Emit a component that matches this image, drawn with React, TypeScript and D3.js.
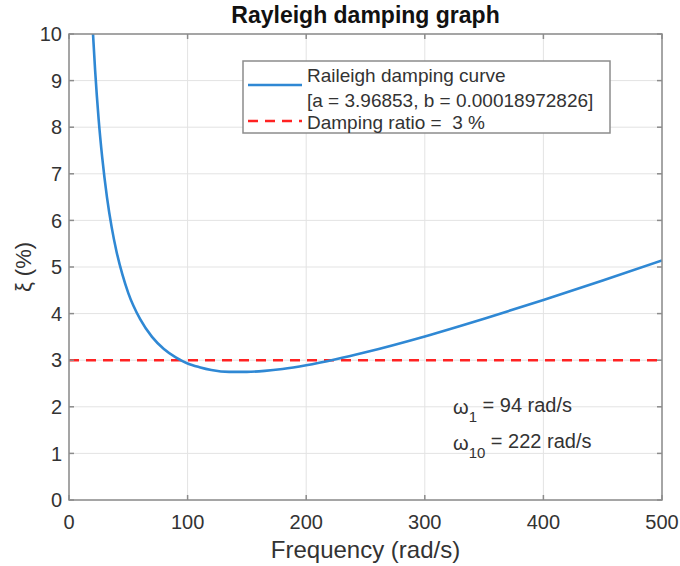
import { scaleLinear, line, curveMonotoneX } from "d3";

const freq = [19, 20, 22, 25, 28, 32, 36, 40, 45, 50, 60, 70, 80, 90, 100, 110, 120, 135, 150, 165, 180, 200, 225, 250, 300, 350, 400, 450, 500];
const ratio = [10.62, 10.11, 9.23, 8.17, 7.35, 6.5, 5.85, 5.34, 4.84, 4.44, 3.88, 3.5, 3.24, 3.06, 2.93, 2.85, 2.79, 2.75, 2.75, 2.77, 2.81, 2.89, 3.02, 3.17, 3.51, 3.89, 4.29, 4.71, 5.14];
const targetRatio = 3;
const xTicks = [0, 100, 200, 300, 400, 500];
const yTicks = [0, 1, 2, 3, 4, 5, 6, 7, 8, 9, 10];
const legendLabels = ["Raileigh damping curve", "[a = 3.96853, b = 0.00018972826]", "Damping ratio =  3 %"];

const width = 680;
const height = 566;
const margin = { top: 34, right: 18, bottom: 66, left: 69 };
const font = "Liberation Sans, Arial, Helvetica, sans-serif";

const blue = "#2f88d4";
const red = "#ff2222";
const axisGray = "#8c8c8c";
const textGray = "#333";

const App = () => {
  const innerWidth = width - margin.left - margin.right;
  const innerHeight = height - margin.top - margin.bottom;

  const xScale = scaleLinear().domain([0, 500]).range([0, innerWidth]);
  const yScale = scaleLinear().domain([0, 10]).range([innerHeight, 0]);

  const pts = freq.map((f, i) => [f, ratio[i]] as [number, number]);
  const curvePath = line<[number, number]>()
    .x((d) => xScale(d[0]))
    .y((d) => yScale(d[1]))
    .curve(curveMonotoneX)(pts);

  const tickLen = 5;

  return (
    <svg width={width} height={height} style={{ position: "absolute", left: 0, top: 0 }} fontFamily={font}>
      <rect width={width} height={height} fill="white" />
      <text x={margin.left + innerWidth / 2} y={23} textAnchor="middle" fontWeight="bold" fontSize={23} fill="#111">
        Rayleigh damping graph
      </text>
      <g transform={`translate(${margin.left},${margin.top})`}>
        <defs>
          <clipPath id="plot-clip">
            <rect width={innerWidth} height={innerHeight} />
          </clipPath>
        </defs>
        {/* grid */}
        {xTicks.map((t) => (
          <line key={"gx" + t} x1={xScale(t)} x2={xScale(t)} y1={0} y2={innerHeight} stroke="#e3e3e3" />
        ))}
        {yTicks.map((t) => (
          <line key={"gy" + t} x1={0} x2={innerWidth} y1={yScale(t)} y2={yScale(t)} stroke="#e3e3e3" />
        ))}

        {/* data */}
        <g clipPath="url(#plot-clip)">
          <line
            x1={0}
            x2={innerWidth}
            y1={yScale(targetRatio)}
            y2={yScale(targetRatio)}
            stroke={red}
            strokeWidth={2.5}
            strokeDasharray="10,7"
          />
          <path d={curvePath || ""} fill="none" stroke={blue} strokeWidth={2.6} />
        </g>

        {/* box + ticks */}
        <rect width={innerWidth} height={innerHeight} fill="none" stroke={axisGray} strokeWidth={1.5} />
        {xTicks.map((t) => (
          <g key={"tx" + t} transform={`translate(${xScale(t)},0)`}>
            <line y1={innerHeight} y2={innerHeight - tickLen} stroke={axisGray} strokeWidth={1.5} />
            <line y1={0} y2={tickLen} stroke={axisGray} strokeWidth={1.5} />
            <text y={innerHeight + 29} textAnchor="middle" fontSize={20} fill={textGray}>
              {t}
            </text>
          </g>
        ))}
        {yTicks.map((t) => (
          <g key={"ty" + t} transform={`translate(0,${yScale(t)})`}>
            <line x1={0} x2={tickLen} stroke={axisGray} strokeWidth={1.5} />
            <line x1={innerWidth} x2={innerWidth - tickLen} stroke={axisGray} strokeWidth={1.5} />
            <text x={-7} dy="0.36em" textAnchor="end" fontSize={20} fill={textGray}>
              {t}
            </text>
          </g>
        ))}

        {/* axis labels */}
        <text x={innerWidth / 2} y={innerHeight + 58} textAnchor="middle" fontSize={24} fill={textGray}>
          Frequency (rad/s)
        </text>
        <text
          transform={`translate(${-38},${innerHeight / 2}) rotate(-90)`}
          textAnchor="middle"
          fontSize={22}
          fill={textGray}
        >
          ξ (%)
        </text>

        {/* legend */}
        <g transform={`translate(${243 - margin.left},${61 - margin.top})`}>
          <rect width={367} height={72} fill="white" stroke={axisGray} strokeWidth={1.5} />
          <line x1={5} x2={59} y1={24} y2={24} stroke={blue} strokeWidth={2.6} />
          <line x1={5} x2={59} y1={60} y2={60} stroke={red} strokeWidth={2.5} strokeDasharray="10,7" />
          <text x={64} y={14} dy="0.35em" fontSize={19} fill={textGray}>
            {legendLabels[0]}
          </text>
          <text x={64} y={39} dy="0.35em" fontSize={19} fill={textGray}>
            {legendLabels[1]}
          </text>
          <text x={64} y={61} dy="0.35em" fontSize={19} fill={textGray} style={{ whiteSpace: "pre" }}>
            {legendLabels[2]}
          </text>
        </g>

        {/* annotation */}
        <g transform={`translate(${453 - margin.left},${407 - margin.top})`} fontSize={20} fill={textGray}>
          <text dy="0.35em">
            ω<tspan fontSize={15} dy="0.5em">1</tspan>
            <tspan dy="-0.5em"> = 94 rad/s</tspan>
          </text>
          <text y={36} dy="0.35em">
            ω<tspan fontSize={15} dy="0.5em">10</tspan>
            <tspan dy="-0.5em"> = 222 rad/s</tspan>
          </text>
        </g>
      </g>
    </svg>
  );
};

export default App;
